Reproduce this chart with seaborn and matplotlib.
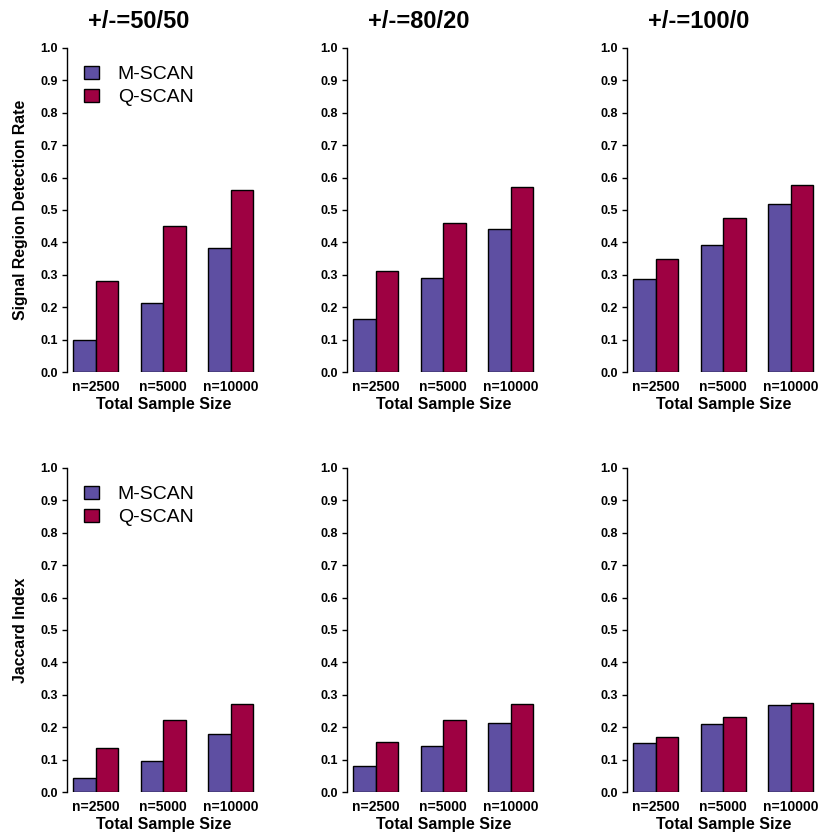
import seaborn as sns
import pandas as pd
from matplotlib import pyplot as plt
from matplotlib.patches import Patch

SIZES = ["n=2500", "n=5000", "n=10000"]
METHODS = ["M-SCAN", "Q-SCAN"]
SETTINGS = ["+/-=50/50", "+/-=80/20", "+/-=100/0"]

# Signal region detection rate (top row)
det_mscan_50 = [0.098, 0.215, 0.382]
det_qscan_50 = [0.280, 0.452, 0.563]
det_mscan_80 = [0.163, 0.289, 0.440]
det_qscan_80 = [0.311, 0.459, 0.570]
det_mscan_100 = [0.286, 0.391, 0.520]
det_qscan_100 = [0.350, 0.474, 0.576]

# Jaccard index (bottom row)
jac_mscan_50 = [0.043, 0.095, 0.179]
jac_qscan_50 = [0.135, 0.222, 0.271]
jac_mscan_80 = [0.080, 0.142, 0.212]
jac_qscan_80 = [0.154, 0.222, 0.271]
jac_mscan_100 = [0.151, 0.209, 0.268]
jac_qscan_100 = [0.169, 0.231, 0.274]

rows = [
    ("Signal Region Detection Rate",
     [(det_mscan_50, det_qscan_50), (det_mscan_80, det_qscan_80), (det_mscan_100, det_qscan_100)]),
    ("Jaccard Index",
     [(jac_mscan_50, jac_qscan_50), (jac_mscan_80, jac_qscan_80), (jac_mscan_100, jac_qscan_100)]),
]

palette = {"M-SCAN": "#5E4FA2", "Q-SCAN": "#9E0142"}

sns.set_style("white")
plt.rcParams["font.family"] = ["Liberation Sans", "DejaVu Sans"]
plt.rcParams["text.color"] = "black"
plt.rcParams["axes.labelcolor"] = "black"
plt.rcParams["xtick.color"] = "black"
plt.rcParams["ytick.color"] = "black"

fig = plt.figure(figsize=(8.4, 8.4), dpi=100)

W = 840.0
for r, (ylabel, series) in enumerate(rows):
    zero_px = 372.3 + r * 420
    for c, (m_vals, q_vals) in enumerate(series):
        df = pd.DataFrame({
            "size": SIZES * 2,
            "method": ["M-SCAN"] * 3 + ["Q-SCAN"] * 3,
            "value": m_vals + q_vals,
        })
        left_px = 66.7 + c * 280
        ax = fig.add_axes([left_px / W, 1 - zero_px / W, 193.3 / W, 324.6 / W])
        sns.barplot(data=df, x="size", y="value", hue="method", order=SIZES,
                    hue_order=METHODS, palette=palette, saturation=1, width=2 / 3, gap=0,
                    edgecolor="black", linewidth=1, errorbar=None, legend=False, ax=ax)
        ax.set_xlim(-0.432, 2.432)
        ax.set_ylim(0, 1)
        ax.set_yticks([i / 10 for i in range(11)])
        ax.set_yticklabels([f"{i / 10:.1f}" for i in range(11)], fontweight="bold", fontsize=9)
        ax.set_xticks(range(3))
        ax.set_xticklabels(SIZES, fontweight="bold", fontsize=10)
        ax.tick_params(axis="y", length=3.6, width=1, pad=2.5, left=True, color="black")
        ax.tick_params(axis="x", length=0, pad=5.5)
        for s in ["top", "right", "bottom"]:
            ax.spines[s].set_visible(False)
        ax.spines["left"].set_color("black")
        ax.spines["left"].set_linewidth(1)
        ax.set_xlabel("Total Sample Size", fontweight="bold", fontsize=11.5)
        ax.xaxis.set_label_coords(0.5, -0.075)
        ax.xaxis.label.set_va("top")
        if c == 0:
            ax.set_ylabel(ylabel, fontweight="bold", fontsize=11.3)
            ax.yaxis.set_label_coords(-0.2, 0.5)
            handles = [Patch(facecolor=palette[m], edgecolor="black", linewidth=1) for m in METHODS]
            ax.legend(handles, METHODS, loc="upper left", bbox_to_anchor=(0.088, 0.945),
                      frameon=False, fontsize=14, handlelength=0.8, handleheight=0.65,
                      handletextpad=0.95, labelspacing=0.3, borderpad=0, borderaxespad=0)
        else:
            ax.set_ylabel("")
        if r == 0:
            fig.text((139 + c * 280) / W, 1 - 21 / W, SETTINGS[c], ha="center", va="center",
                     fontweight="bold", fontsize=17)

fig.savefig("out.png", dpi=100)
